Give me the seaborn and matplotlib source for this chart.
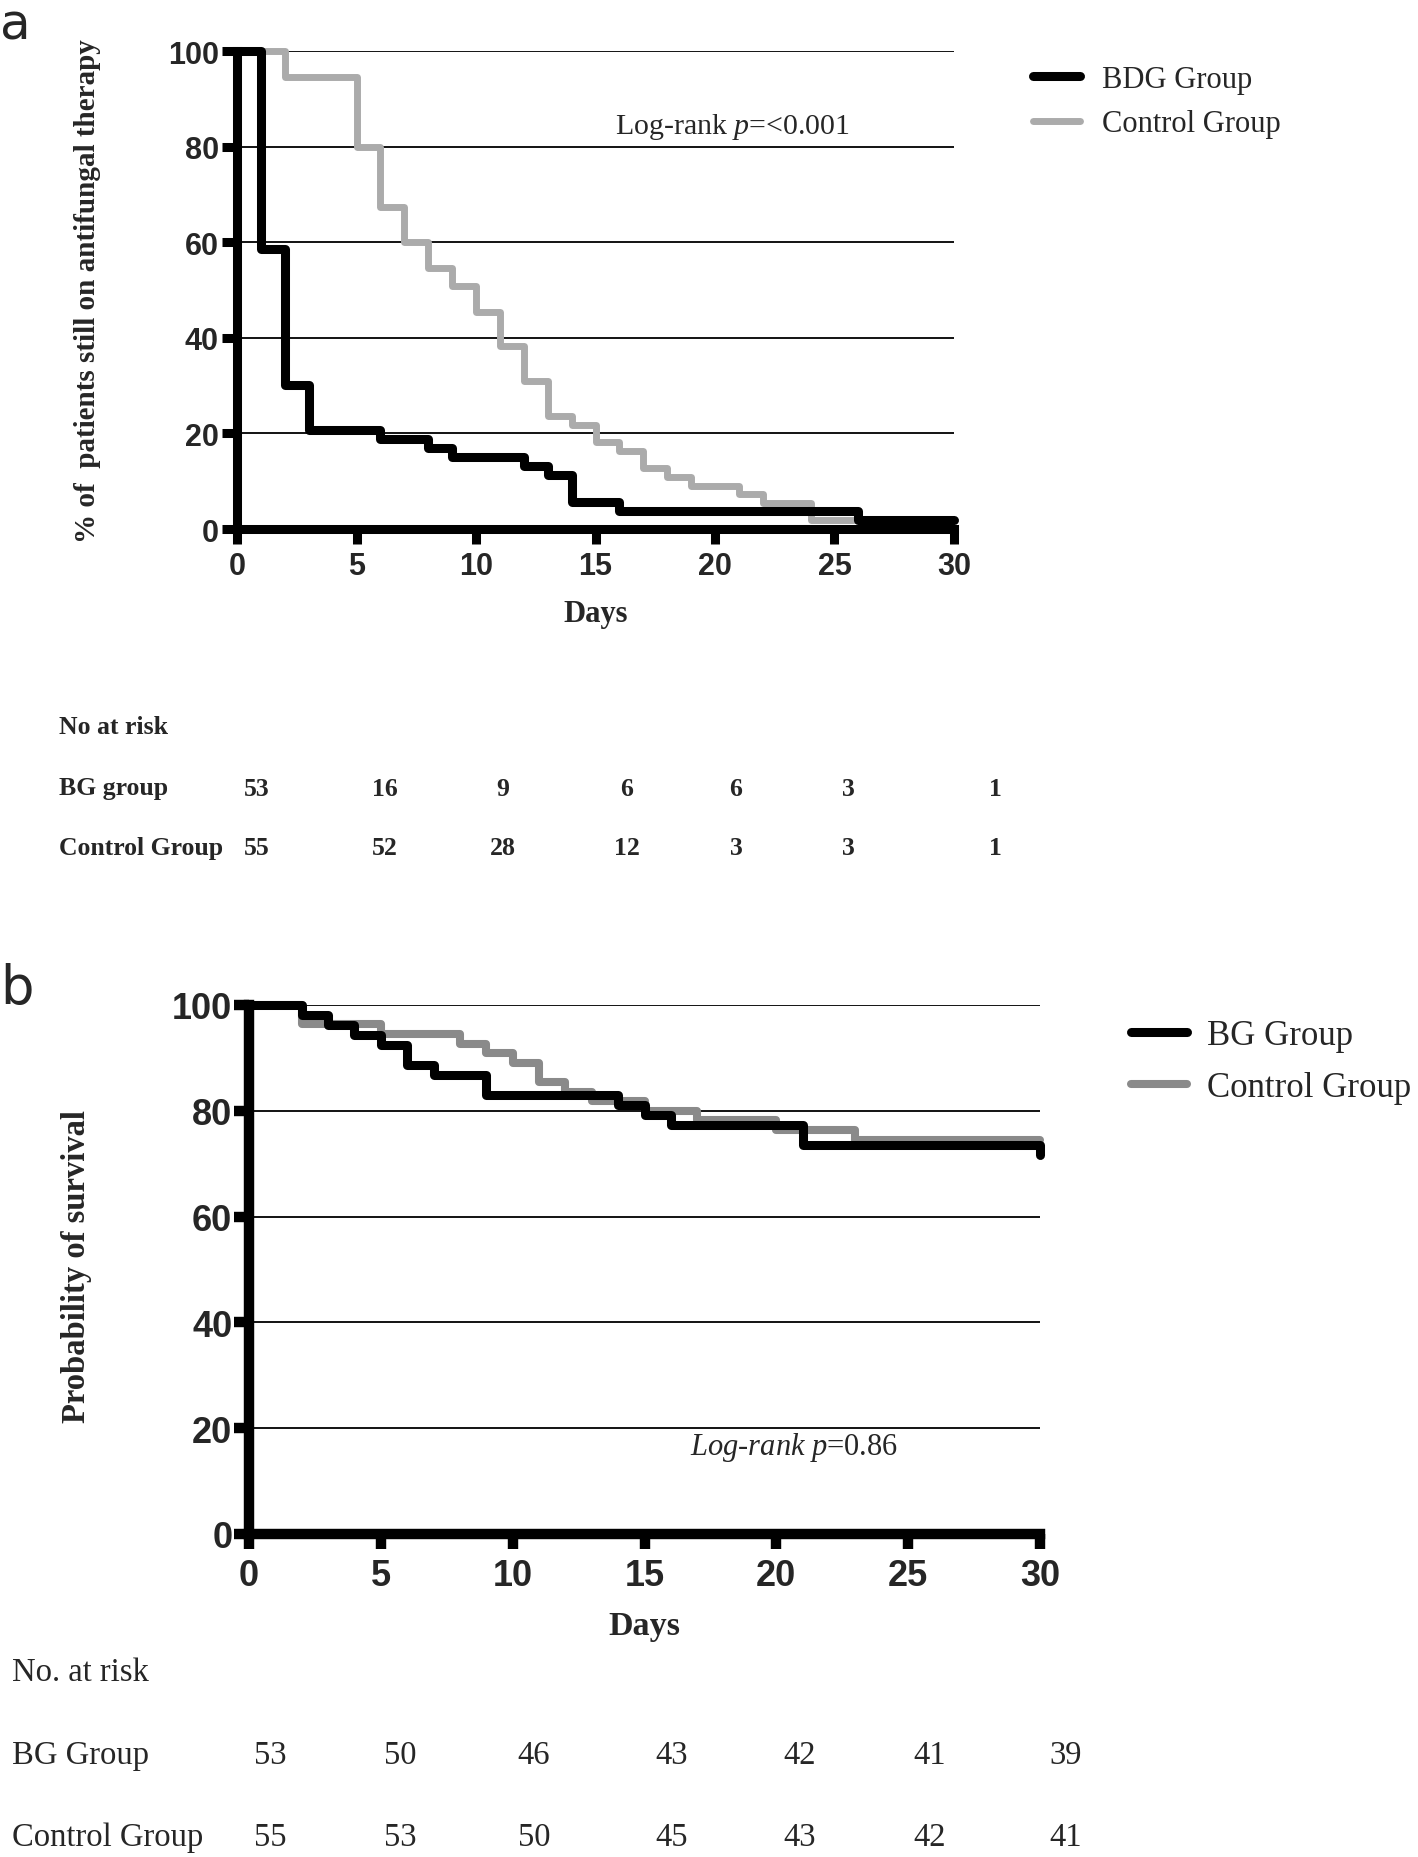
import matplotlib.pyplot as plt
import seaborn as sns

sns.set_style("white")
plt.rcParams["font.family"] = ["Liberation Serif", "DejaVu Serif"]
plt.rcParams["mathtext.fontset"] = "custom"
plt.rcParams["mathtext.rm"] = "Liberation Serif"
plt.rcParams["mathtext.it"] = "Liberation Serif:italic"

# panel a: % of patients still on antifungal therapy
bdg_days = [0, 1, 2, 3, 6, 8, 9, 12, 13, 14, 16, 26, 30]
bdg_pct = [100, 58.5, 30.2, 20.8, 18.9, 17.0, 15.1, 13.2, 11.3, 5.7, 3.8, 1.9, 1.9]
ctrl_days_a = [0, 2, 5, 6, 7, 8, 9, 10, 11, 12, 13, 14, 15, 16, 17, 18, 19, 21, 22, 24, 26]
ctrl_pct_a = [100, 94.5, 80.0, 67.3, 60.0, 54.5, 50.9, 45.5, 38.2, 30.9, 23.6, 21.8,
              18.2, 16.4, 12.7, 10.9, 9.1, 7.3, 5.5, 1.8, 1.8]

# panel b: probability of survival
bg_days = [0, 2, 3, 4, 5, 6, 7, 9, 14, 15, 16, 21, 30, 30]
bg_surv = [100, 98.1, 96.2, 94.3, 92.5, 88.7, 86.8, 83.0, 81.1, 79.2, 77.4, 73.6, 73.6, 71.7]
ctrl_days_b = [0, 2, 5, 8, 9, 10, 11, 12, 13, 15, 17, 20, 23, 30]
ctrl_surv_b = [100, 96.4, 94.5, 92.7, 90.9, 89.1, 85.5, 83.6, 81.8, 80.0, 78.2, 76.4, 74.5, 74.5]

# numbers at risk
risk_a_bg = [53, 16, 9, 6, 6, 3, 1]
risk_a_ctrl = [55, 52, 28, 12, 3, 3, 1]
risk_b_bg = [53, 50, 46, 43, 42, 41, 39]
risk_b_ctrl = [55, 53, 50, 45, 43, 42, 41]

W, H = 1418, 1858


def fx(x):
    return x / W


def fy(y):
    return 1 - y / H


fig = plt.figure(figsize=(W / 100, H / 100), dpi=100)
ax_a = fig.add_axes([fx(237), fy(530), (954 - 237) / W, (530 - 52) / H])
ax_b = fig.add_axes([fx(249), fy(1535), (1040 - 249) / W, (1535 - 1006) / H])


def style_axes(ax, spine_w, tick_size, xpad, ypad):
    ax.set_xlim(0, 30)
    ax.set_ylim(0, 100)
    ax.set_xticks(range(0, 31, 5))
    ax.set_yticks(range(0, 101, 20))
    sns.despine(ax=ax)
    for s in ["left", "bottom"]:
        ax.spines[s].set_linewidth(spine_w)
        ax.spines[s].set_color("black")
    ax.yaxis.grid(True, color="black", lw=1.3)
    ax.xaxis.grid(False)
    ax.set_axisbelow(True)
    ax.tick_params(axis="both", direction="out", length=11, width=spine_w, color="black",
                   left=True, bottom=True)
    ax.tick_params(axis="x", pad=xpad)
    ax.tick_params(axis="y", pad=ypad)
    for lab in ax.get_xticklabels() + ax.get_yticklabels():
        lab.set_fontfamily("Liberation Sans")
        lab.set_fontweight("bold")
        lab.set_fontsize(tick_size)


# ---- panel a
sns.lineplot(x=ctrl_days_a, y=ctrl_pct_a, ax=ax_a, color="#ababab", linewidth=5,
             drawstyle="steps-post", estimator=None, sort=False, clip_on=False,
             label="Control Group")
sns.lineplot(x=bdg_days, y=bdg_pct, ax=ax_a, color="black", linewidth=6.5,
             drawstyle="steps-post", estimator=None, sort=False, clip_on=False,
             label="BDG Group")
style_axes(ax_a, 6.5, 22, 5, 2)
ax_a.set_xlabel("Days", fontsize=22, fontweight="bold")
ax_a.xaxis.set_label_coords(0.5, -0.146)
ax_a.set_ylabel("% of  patients still on antifungal therapy", fontsize=21, fontweight="bold")
ax_a.yaxis.set_label_coords(-0.19, 0.5)
ax_a.legend(handles=[ax_a.lines[1], ax_a.lines[0]], loc="upper left",
            bbox_to_anchor=(fx(1033), fy(66)), bbox_transform=fig.transFigure,
            frameon=False, borderpad=0, borderaxespad=0, handlelength=1.55,
            handletextpad=0.7, labelspacing=0.5,
            prop={"family": "Liberation Serif", "size": 22})
fig.text(fx(732), fy(127), r"Log-rank $\it{p}$=<0.001", fontsize=21.5,
         ha="center", va="center")

# ---- panel b
sns.lineplot(x=ctrl_days_b, y=ctrl_surv_b, ax=ax_b, color="#8a8a8a", linewidth=5.8,
             drawstyle="steps-post", estimator=None, sort=False, clip_on=False,
             label="Control Group")
sns.lineplot(x=bg_days, y=bg_surv, ax=ax_b, color="black", linewidth=6.5,
             drawstyle="steps-post", estimator=None, sort=False, clip_on=False,
             label="BG Group")
style_axes(ax_b, 7.5, 26, 6, 1)
ax_b.set_xlabel("Days", fontsize=24.5, fontweight="bold")
ax_b.xaxis.set_label_coords(0.5, -0.144)
ax_b.set_ylabel("Probability of survival", fontsize=23.5, fontweight="bold")
ax_b.yaxis.set_label_coords(-0.198, 0.507)
ax_b.legend(handles=[ax_b.lines[1], ax_b.lines[0]], loc="upper left",
            bbox_to_anchor=(fx(1131), fy(1020)), bbox_transform=fig.transFigure,
            frameon=False, borderpad=0, borderaxespad=0, handlelength=1.6,
            handletextpad=0.6, labelspacing=0.55,
            prop={"family": "Liberation Serif", "size": 25})
fig.text(fx(794), fy(1448), r"$\it{Log}$-$\it{rank\ p}$=0.86", fontsize=22,
         ha="center", va="center")

# ---- numbers at risk tables
cols_a = [257, 385, 503, 627, 736, 848, 995]
fig.text(fx(59), fy(727), "No at risk", fontsize=18.5, fontweight="bold", va="center")
fig.text(fx(59), fy(789), "BG group", fontsize=18.5, fontweight="bold", va="center")
fig.text(fx(59), fy(849), "Control Group", fontsize=18.5, fontweight="bold", va="center")
for x, n1, n2 in zip(cols_a, risk_a_bg, risk_a_ctrl):
    fig.text(fx(x), fy(789), str(n1), fontsize=18.5, fontweight="bold", ha="center", va="center")
    fig.text(fx(x), fy(849), str(n2), fontsize=18.5, fontweight="bold", ha="center", va="center")

cols_b = [270, 400, 534, 672, 800, 930, 1066]
fig.text(fx(12), fy(1673), "No. at risk", fontsize=23.5, va="center")
fig.text(fx(12), fy(1756), "BG Group", fontsize=23.5, va="center")
fig.text(fx(12), fy(1838), "Control Group", fontsize=23.5, va="center")
for x, n1, n2 in zip(cols_b, risk_b_bg, risk_b_ctrl):
    fig.text(fx(x), fy(1756), str(n1), fontsize=23.5, ha="center", va="center")
    fig.text(fx(x), fy(1838), str(n2), fontsize=23.5, ha="center", va="center")

# panel letters
fig.text(fx(0), fy(2), "a", fontsize=36, family="DejaVu Sans", va="top")
fig.text(fx(0), fy(1004), "b", fontsize=38, family="DejaVu Sans", va="baseline")

fig.savefig("out.png", dpi=100)
